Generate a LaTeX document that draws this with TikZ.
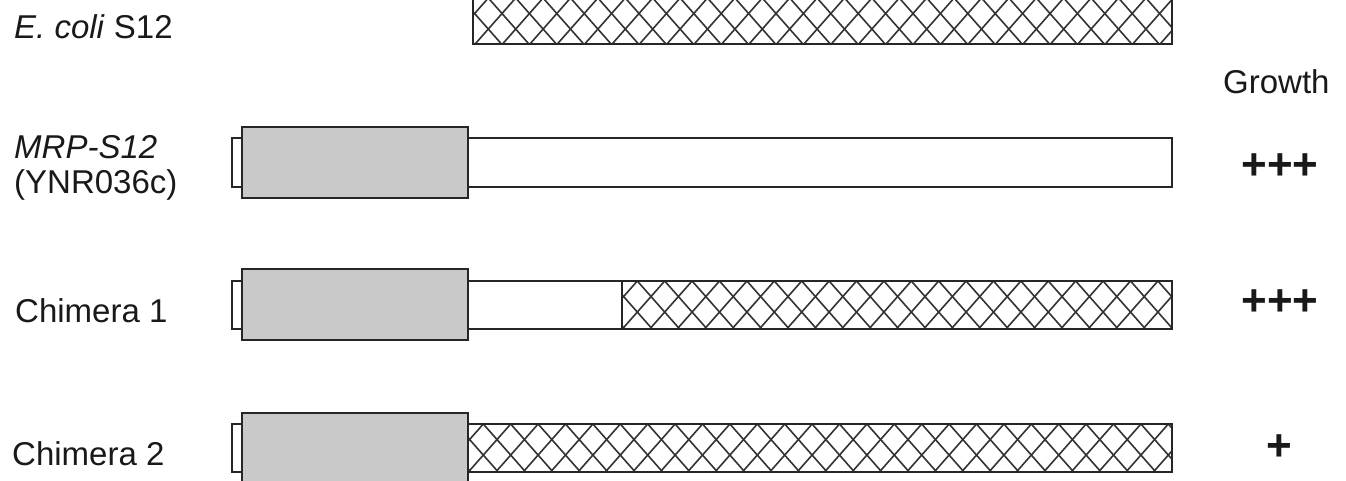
\documentclass[tikz,border=0pt]{standalone}
\usepackage{fontspec}
\setmainfont{Liberation Sans}
\begin{document}
\begin{tikzpicture}[x=1pt,y=-1pt,
  bar/.style={draw=black!85,line width=1.5pt},
  greybox/.style={bar,fill=black!21},
  lbl/.style={anchor=base west,inner sep=0pt,font=\fontsize{33}{36}\selectfont,text=black!90},
  growthmark/.style={anchor=center,inner sep=0pt,font=\fontsize{44}{48}\selectfont\bfseries,text=black!90},
  hatchline/.style={draw=black!80,line width=1.6pt}]
\useasboundingbox (0,0) rectangle (1346,480);
\newcommand\hatchrect[4]{%
  \begin{scope}
    \clip (#1,#2) rectangle (#3,#4);
    \foreach \k in {0,...,30}{
      \draw[hatchline] ({#1+15.3-82.2+\k*27.4},{#2}) -- ++(60,68);
      \draw[hatchline] ({#1+15.3-82.2+\k*27.4},{#2}) -- ++(-60,68);
    }
  \end{scope}
  \draw[bar] (#1,#2) rectangle (#3,#4);}
% row 1: E. coli S12
\hatchrect{473}{-2}{1172}{44}
\node[lbl] (ecoli) at (14,38) {\textit{E. coli} S12};
\node[lbl] (growth) at (1223,93) {Growth};
% row 2: MRP-S12
\draw[bar] (232,138) rectangle (242,187);
\draw[bar] (468,138) rectangle (1172,187);
\draw[greybox] (242,127) rectangle (468,198);
\node[lbl] (mrp) at (14,158) {\textit{MRP-S12}};
\node[lbl] (ynr) at (14,193) {(YNR036c)};
\node[growthmark] (g1) at (1280,167) {+++};
% row 3: Chimera 1
\draw[bar] (232,281) rectangle (242,329);
\draw[bar] (468,281) rectangle (622,329);
\hatchrect{622}{281}{1172}{329}
\draw[greybox] (242,269) rectangle (468,340);
\node[lbl] (ch1) at (15,322) {Chimera 1};
\node[growthmark] (g2) at (1280,303) {+++};
% row 4: Chimera 2
\draw[bar] (232,424) rectangle (242,472);
\hatchrect{468}{424}{1172}{472}
\draw[greybox] (242,413) rectangle (468,486);
\node[lbl] (ch2) at (12,465) {Chimera 2};
\node[growthmark] (g3) at (1279,448) {+};
\end{tikzpicture}
\end{document}
